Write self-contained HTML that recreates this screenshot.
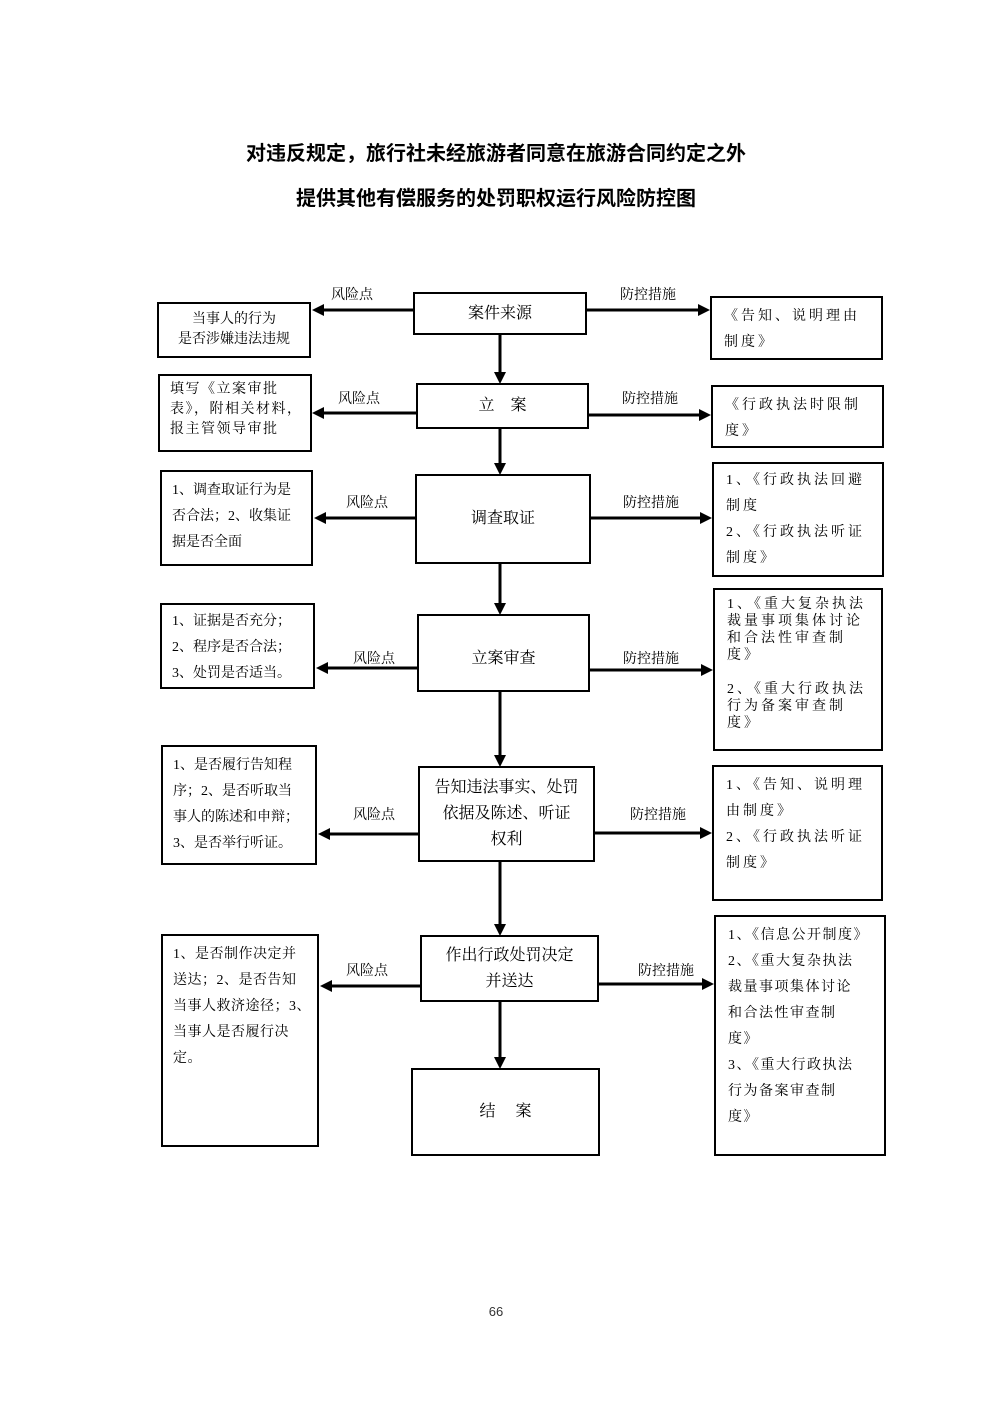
<!DOCTYPE html>
<html><head><meta charset="utf-8">
<style>
html,body{margin:0;padding:0;background:#fff;}
body{width:992px;height:1403px;position:relative;overflow:hidden;font-family:"Liberation Sans","Noto Sans CJK SC",sans-serif;color:#000;}
.t{position:absolute;left:0;width:992px;text-align:center;font-size:20px;font-weight:bold;font-family:"Liberation Sans","Noto Sans CJK SC",sans-serif;}
.b{position:absolute;border:2.5px solid #000;box-sizing:border-box;font-size:14px;font-family:"Liberation Serif","Noto Serif CJK SC",serif;}
.c{display:flex;align-items:center;justify-content:center;text-align:center;font-size:16px;line-height:26px;}
.l{padding:6px 10px;line-height:26px;}
.r{padding:6px 12px;line-height:26px;letter-spacing:3px;}
.nw{white-space:nowrap;overflow:hidden;}
.lab{position:absolute;font-size:14px;font-family:"Liberation Serif","Noto Serif CJK SC",serif;}
</style></head><body>
<div class="t" style="top:137px;">对违反规定，旅行社未经旅游者同意在旅游合同约定之外</div>
<div class="t" style="top:182px;">提供其他有偿服务的处罚职权运行风险防控图</div>

<svg width="992" height="1403" style="position:absolute;left:0;top:0">
<g stroke="#000" stroke-width="3" fill="none">
<line x1="500" y1="334" x2="500" y2="373"/>
<line x1="500" y1="428" x2="500" y2="464"/>
<line x1="500" y1="563" x2="500" y2="604"/>
<line x1="500" y1="691" x2="500" y2="756"/>
<line x1="500" y1="861" x2="500" y2="925"/>
<line x1="500" y1="1001" x2="500" y2="1058"/>
<line x1="413" y1="310" x2="322" y2="310"/><line x1="586" y1="310" x2="700" y2="310"/>
<line x1="416" y1="413" x2="322" y2="413"/><line x1="588" y1="415" x2="701" y2="415"/>
<line x1="415" y1="518" x2="324" y2="518"/><line x1="590" y1="518" x2="702" y2="518"/>
<line x1="417" y1="668" x2="326" y2="668"/><line x1="589" y1="670" x2="703" y2="670"/>
<line x1="418" y1="834" x2="328" y2="834"/><line x1="594" y1="833" x2="702" y2="833"/>
<line x1="420" y1="986" x2="330" y2="986"/><line x1="598" y1="984" x2="704" y2="984"/>
</g>
<g fill="#000">
<polygon points="494,372 506,372 500,384"/>
<polygon points="494,463 506,463 500,475"/>
<polygon points="494,603 506,603 500,615"/>
<polygon points="494,755 506,755 500,767"/>
<polygon points="494,924 506,924 500,936"/>
<polygon points="494,1057 506,1057 500,1069"/>
<polygon points="324,304 324,316 312,310"/><polygon points="698,304 698,316 710,310"/>
<polygon points="324,407 324,419 312,413"/><polygon points="699,409 699,421 711,415"/>
<polygon points="326,512 326,524 314,518"/><polygon points="700,512 700,524 712,518"/>
<polygon points="328,662 328,674 316,668"/><polygon points="701,664 701,676 713,670"/>
<polygon points="330,828 330,840 318,834"/><polygon points="700,827 700,839 712,833"/>
<polygon points="332,980 332,992 320,986"/><polygon points="702,978 702,990 714,984"/>
</g>
</svg>

<div class="lab" style="left:331px;top:284px">风险点</div><div class="lab" style="left:620px;top:284px">防控措施</div>
<div class="lab" style="left:338px;top:388px">风险点</div><div class="lab" style="left:622px;top:388px">防控措施</div>
<div class="lab" style="left:346px;top:492px">风险点</div><div class="lab" style="left:623px;top:492px">防控措施</div>
<div class="lab" style="left:353px;top:648px">风险点</div><div class="lab" style="left:623px;top:648px">防控措施</div>
<div class="lab" style="left:353px;top:804px">风险点</div><div class="lab" style="left:630px;top:804px">防控措施</div>
<div class="lab" style="left:346px;top:960px">风险点</div><div class="lab" style="left:638px;top:960px">防控措施</div>

<div class="b c" style="left:413px;top:292px;width:174px;height:43px">案件来源</div>
<div class="b c" style="left:416px;top:383px;width:173px;height:46px">立&nbsp;&nbsp;&nbsp;&nbsp;案</div>
<div class="b c" style="left:415px;top:474px;width:176px;height:90px">调查取证</div>
<div class="b c" style="left:417px;top:614px;width:173px;height:78px;padding-top:12px">立案审查</div>
<div class="b c" style="left:418px;top:766px;width:177px;height:96px">告知违法事实、处罚<br>依据及陈述、听证<br>权利</div>
<div class="b c" style="left:420px;top:935px;width:179px;height:67px">作出行政处罚决定<br>并送达</div>
<div class="b c" style="left:411px;top:1068px;width:189px;height:88px">结&nbsp;&nbsp;&nbsp;&nbsp;&nbsp;案</div>

<div class="b l" style="left:157px;top:302px;width:154px;height:56px;text-align:center;line-height:20px;padding-top:6px">当事人的行为<br>是否涉嫌违法违规</div>
<div class="b l nw" style="left:158px;top:374px;width:154px;height:78px;line-height:20px;padding-top:4px;letter-spacing:1.5px">填写《立案审批<br>表》，附相关材料，<br>报主管领导审批</div>
<div class="b l" style="left:160px;top:470px;width:153px;height:96px">1、调查取证行为是否合法；2、收集证据是否全面</div>
<div class="b l" style="left:160px;top:603px;width:155px;height:86px;line-height:26px;padding-top:4px">1、证据是否充分；<br>2、程序是否合法；<br>3、处罚是否适当。</div>
<div class="b l" style="left:161px;top:745px;width:156px;height:120px">1、是否履行告知程序；2、是否听取当事人的陈述和申辩；3、是否举行听证。</div>
<div class="b l nw" style="left:161px;top:934px;width:158px;height:213px;letter-spacing:0.5px">1、是否制作决定并<br>送达；2、是否告知<br>当事人救济途径；3、<br>当事人是否履行决<br>定。</div>

<div class="b r" style="left:710px;top:296px;width:173px;height:64px">《告知、说明理由制度》</div>
<div class="b r" style="left:711px;top:385px;width:173px;height:63px">《行政执法时限制度》</div>
<div class="b r" style="left:712px;top:462px;width:172px;height:115px;padding-top:4px">1、《行政执法回避制度<br>2、《行政执法听证制度》</div>
<div class="b r" style="left:713px;top:588px;width:170px;height:163px;line-height:17px;padding-top:6px">1、《重大复杂执法裁量事项集体讨论和合法性审查制度》<br><br>2、《重大行政执法行为备案审查制度》</div>
<div class="b r" style="left:712px;top:765px;width:171px;height:136px;padding-top:6px">1、《告知、说明理由制度》<br>2、《行政执法听证制度》</div>
<div class="b r nw" style="left:714px;top:915px;width:172px;height:241px;padding:6px 8px 0 12px;letter-spacing:1.5px">1、《信息公开制度》<br>2、《重大复杂执法<br>裁量事项集体讨论<br>和合法性审查制<br>度》<br>3、《重大行政执法<br>行为备案审查制<br>度》</div>

<div style="position:absolute;left:0;width:992px;top:1304px;text-align:center;font-size:13px;color:#333">66</div>
</body></html>
